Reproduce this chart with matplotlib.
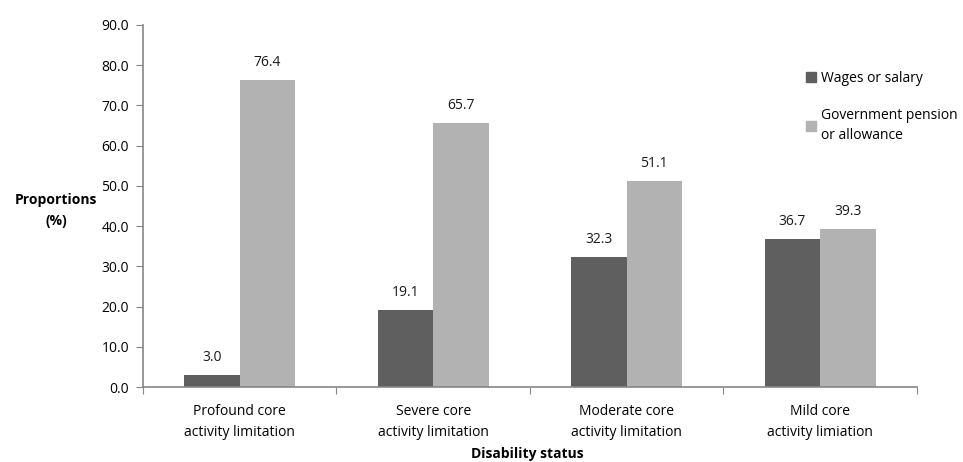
import matplotlib.pyplot as plt
import numpy as np
from matplotlib.patches import Patch

categories = ['Profound core\nactivity limitation', 'Severe core\nactivity limitation',
              'Moderate core\nactivity limitation', 'Mild core\nactivity limiation']
wages = [3.0, 19.1, 32.3, 36.7]
pension = [76.4, 65.7, 51.1, 39.3]
series_names = ['Wages or salary', 'Government pension\nor allowance']

plt.rcParams['font.family'] = ['Open Sans', 'DejaVu Sans']
plt.rcParams['font.size'] = 10

dark = '#5f5f5f'
light = '#b2b2b2'
axis_col = '#868686'

fig = plt.figure(figsize=(9.63, 4.62), dpi=100)
ax = fig.add_axes([0.1485, 0.1623, 0.8035, 0.7836])

x = np.arange(len(categories))
w = 0.287
b1 = ax.bar(x - w / 2, wages, w, color=dark, edgecolor='none')
b2 = ax.bar(x + w / 2, pension, w, color=light, edgecolor='none')

for bars, vals in ((b1, wages), (b2, pension)):
    for bar, v in zip(bars, vals):
        ax.text(bar.get_x() + bar.get_width() / 2, v + 2.5, f'{v:.1f}',
                ha='center', va='bottom', fontsize=10, color='#1a1a1a')

ax.set_xlim(-0.5, len(categories) - 0.5)
ax.set_ylim(0, 90)
ax.set_yticks(np.arange(0, 91, 10))
ax.set_yticklabels([f'{v:.1f}' for v in np.arange(0, 91, 10)])

# group separators as the major ticks, labels on minor ticks
ax.set_xticks(np.arange(-0.5, len(categories), 1.0))
ax.set_xticklabels([])
ax.set_xticks(x, minor=True)
ax.set_xticklabels(categories, minor=True, linespacing=1.55)
ax.tick_params(axis='x', which='minor', length=0, pad=12)
ax.tick_params(axis='x', which='major', length=5, color=axis_col, direction='out')
ax.tick_params(axis='y', length=5, color=axis_col, direction='out', pad=5)

for side in ('top', 'right'):
    ax.spines[side].set_visible(False)
for side in ('left', 'bottom'):
    ax.spines[side].set_color(axis_col)
    ax.spines[side].set_linewidth(1.2)

fig.text(0.058, 0.545, 'Proportions\n(%)', ha='center', va='center',
         fontweight='bold', fontsize=10, linespacing=1.6)
fig.text(0.548, 0.018, 'Disability status', ha='center', va='center',
         fontweight='bold', fontsize=10)

handles = [Patch(color=dark), Patch(color=light)]
leg = fig.legend(handles, series_names, loc='upper left', bbox_to_anchor=(0.830, 0.862),
                 frameon=False, handlelength=0.7, handleheight=0.7, handletextpad=0.35,
                 labelspacing=1.6, borderpad=0, prop={'size': 10})
for t in leg.get_texts():
    t.set_linespacing(1.5)

fig.savefig('out.png', dpi=100)
